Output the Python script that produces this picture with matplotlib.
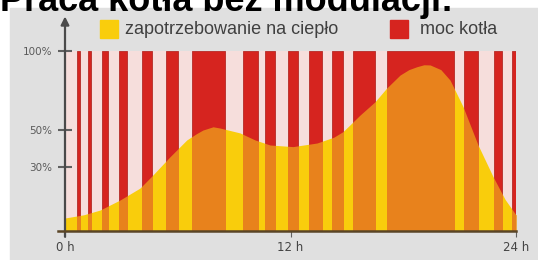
import numpy as np
import matplotlib.pyplot as plt
from matplotlib.patches import Rectangle

# czas pracy kotła (start, koniec) w godzinach
bar_start = [0.62, 1.22, 1.95, 2.87, 4.10, 5.38, 6.74, 9.47, 10.64,
             11.87, 12.99, 14.21, 15.33, 17.12, 21.23, 22.83, 23.77]
bar_end = [0.80, 1.38, 2.30, 3.30, 4.63, 6.01, 8.51, 10.27, 11.18,
           12.40, 13.68, 14.79, 16.50, 20.70, 21.98, 23.25, 24.04]

# zapotrzebowanie na ciepło (godzina, poziom)
hours = [0.0, 1.0, 1.86, 2.93, 3.99, 4.68, 5.59, 6.48, 7.0, 7.34, 7.88, 8.25,
         9.31, 10.11, 10.91, 12.13, 13.41, 14.3, 14.79, 15.16, 15.7, 16.5, 17.12,
         17.83, 18.3, 18.72, 19.1, 19.43, 20.0, 20.49, 21.18, 21.98, 22.78,
         23.42, 24.0]
demand = [7.2, 9.0, 11.6, 17.2, 23.8, 31.1, 41.2, 50.5, 54.0, 56.0, 57.8, 57.1,
          54.4, 50.5, 47.7, 46.8, 48.8, 52.0, 55.1, 58.8, 64.3, 71.7, 79.3,
          86.5, 89.5, 91.1, 92.2, 92.1, 89.5, 83.7, 69.0, 47.7, 30.1,
          17.5, 8.9]

ytick_pos = [100, 56.0, 35.7]
ytick_lab = ['100%', '50%', '30%']
xtick_pos = [0, 12, 24]
xtick_lab = ['0 h', '12 h', '24 h']

yellow = '#f9cd0c'
orange = '#e8821c'
red = '#d6241f'
pink = '#f6dedc'
gray = '#e0e0e0'

fig = plt.figure(figsize=(5.38, 2.6), dpi=100, facecolor='white')
fig.patches.append(Rectangle((10 / 538, 0), 1, 1 - 8 / 260, transform=fig.transFigure,
                             color=gray, zorder=-5))
fig.text(0.0, 1 - 11 / 260, 'Praca kotła bez modulacji:', fontsize=26, fontweight='bold',
         family='Liberation Sans', va='baseline', ha='left', color='black', zorder=10)

ax = fig.add_axes([65 / 538, 29 / 260, 451 / 538, 180.3 / 260])
ax.set_zorder(2)
ax.set_facecolor(pink)
ax.set_xlim(0, 24)
ax.set_ylim(0, 100)

ax.fill_between(hours, demand, 0, color=yellow, lw=0, zorder=1)
widths = [e - s for s, e in zip(bar_start, bar_end)]
bars = ax.bar(bar_start, 100, width=widths, align='edge', color=red,
              edgecolor='#b52a26', linewidth=0.6, zorder=2)
for b in bars:
    poly = ax.fill_between(hours, demand, 0, color=orange, lw=0, zorder=3)
    poly.set_clip_path(b)

for s in ax.spines.values():
    s.set_visible(False)

# osie
ax.annotate('', xy=(0, 1.19), xycoords='axes fraction', xytext=(0, -0.032),
            arrowprops=dict(arrowstyle='-|>', color='#4a4a4a', lw=1.6,
                            mutation_scale=12, shrinkA=0, shrinkB=0), zorder=5)
ax.plot([-0.0155, 1.0], [0, 0], transform=ax.transAxes, color='#5a4526', lw=1.8,
        clip_on=False, zorder=5)

ax.set_yticks(ytick_pos)
ax.set_yticklabels(ytick_lab)
ax.tick_params(axis='y', direction='inout', length=10, width=1.5, color='#606060',
               labelsize=7.5, labelcolor='#5a5a5a', pad=4)
ax.set_xticks(xtick_pos)
ax.set_xticklabels(xtick_lab)
ax.tick_params(axis='x', direction='out', length=4, width=0.8, color='#606060',
               labelsize=8.5, labelcolor='#444444', pad=3)

# legenda
fig.patches.append(Rectangle((100 / 538, 1 - 38 / 260), 18 / 538, 18 / 260,
                             transform=fig.transFigure, color=yellow, zorder=3))
fig.text(125 / 538, 1 - 29 / 260, 'zapotrzebowanie na ciepło', fontsize=13,
         family='Liberation Sans', va='center', ha='left', color='#404040')
fig.patches.append(Rectangle((390 / 538, 1 - 38 / 260), 18 / 538, 18 / 260,
                             transform=fig.transFigure, color=red, zorder=3))
fig.text(420 / 538, 1 - 29 / 260, 'moc kotła', fontsize=13,
         family='Liberation Sans', va='center', ha='left', color='#404040')

fig.savefig('out.png', dpi=100, facecolor=fig.get_facecolor())
